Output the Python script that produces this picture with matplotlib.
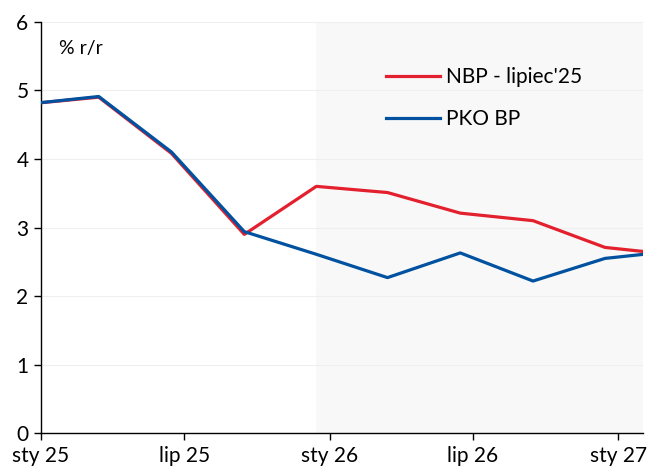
import matplotlib
matplotlib.use("Agg")
import matplotlib.pyplot as plt
import pandas as pd

# quarterly points (placed mid last month of each quarter)
dates = pd.to_datetime([
    "2024-12-15", "2025-03-15", "2025-06-15", "2025-09-15", "2025-12-15",
    "2026-03-15", "2026-06-15", "2026-09-15", "2026-12-15", "2027-03-15",
])
nbp = [4.80, 4.90, 4.08, 2.90, 3.60, 3.51, 3.21, 3.10, 2.71, 2.60]
pko = [4.80, 4.91, 4.10, 2.94, 2.61, 2.27, 2.63, 2.22, 2.55, 2.66]

tick_dates = pd.to_datetime(["2025-01-01", "2025-07-01", "2026-01-01", "2026-07-01", "2027-01-01"])
tick_labels = ["sty 25", "lip 25", "sty 26", "lip 26", "sty 27"]
forecast_start = pd.Timestamp("2025-12-15")

RED = "#E3202D"
BLUE = "#0052A0"

plt.rcParams["font.family"] = ["Lato", "DejaVu Sans"]

fig = plt.figure(figsize=(6.57, 4.70), dpi=100)
ax = fig.add_axes([0.0624, 0.078, 0.9163, 0.8758])

x_min, x_max = pd.Timestamp("2025-01-01"), pd.Timestamp("2027-02-01")
ax.axvspan(forecast_start, x_max, color="#F8F8F8", zorder=0, lw=0)

ax.plot(dates, nbp, color=RED, lw=2.3, label="NBP - lipiec'25", zorder=3)
ax.plot(dates, pko, color=BLUE, lw=2.3, label="PKO BP", zorder=4)

ax.set_xlim(x_min, x_max)
ax.set_ylim(0, 6)
ax.set_yticks(range(0, 7))
ax.set_xticks(tick_dates)
ax.set_xticklabels(tick_labels)
ax.grid(axis="y", color="#EFEFEF", lw=0.8, zorder=1)
ax.set_axisbelow(True)

for side in ("top", "right"):
    ax.spines[side].set_visible(False)
for side in ("left", "bottom"):
    ax.spines[side].set_color("black")
    ax.spines[side].set_linewidth(1.0)
ax.tick_params(axis="both", labelsize=15, colors="black", length=5, width=1.0, pad=4)

ax.text(0.03, 0.935, "% r/r", transform=ax.transAxes, fontsize=14, va="center", ha="left")

leg = ax.legend(loc="upper left", bbox_to_anchor=(0.542, 0.935), frameon=False,
                fontsize=15, handlelength=2.6, handletextpad=0.3, labelspacing=1.05)

fig.savefig("out.png", dpi=100)
